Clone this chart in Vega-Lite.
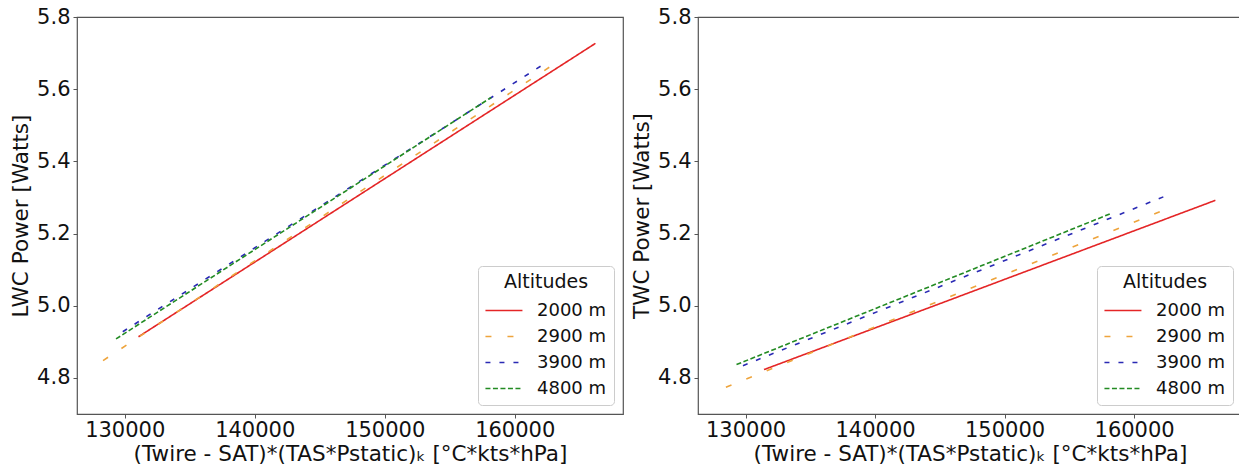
{
  "$schema": "https://vega.github.io/schema/vega-lite/v6.json",
  "padding": {"left": 10, "top": 5, "right": 0, "bottom": 1},
  "background": "white",
  "datasets": {
    "lines": [
      {"panel": "LWC", "alt": "2000 m", "x": 131060, "y": 4.914},
      {"panel": "LWC", "alt": "2000 m", "x": 166212, "y": 5.727},
      {"panel": "LWC", "alt": "2900 m", "x": 128333, "y": 4.848},
      {"panel": "LWC", "alt": "2900 m", "x": 162667, "y": 5.661},
      {"panel": "LWC", "alt": "3900 m", "x": 129850, "y": 4.928},
      {"panel": "LWC", "alt": "3900 m", "x": 162576, "y": 5.677},
      {"panel": "LWC", "alt": "4800 m", "x": 129333, "y": 4.908},
      {"panel": "LWC", "alt": "4800 m", "x": 158182, "y": 5.577},
      {"panel": "TWC", "alt": "2000 m", "x": 131424, "y": 4.823},
      {"panel": "TWC", "alt": "2000 m", "x": 166273, "y": 5.292},
      {"panel": "TWC", "alt": "2900 m", "x": 128485, "y": 4.774},
      {"panel": "TWC", "alt": "2900 m", "x": 162788, "y": 5.272},
      {"panel": "TWC", "alt": "3900 m", "x": 129800, "y": 4.834},
      {"panel": "TWC", "alt": "3900 m", "x": 162424, "y": 5.304},
      {"panel": "TWC", "alt": "4800 m", "x": 129303, "y": 4.837},
      {"panel": "TWC", "alt": "4800 m", "x": 158242, "y": 5.256}
    ]
  },
  "data": {"name": "lines"},
  "spacing": 7,
  "resolve": {
    "scale": {"color": "independent", "strokeDash": "independent"},
    "legend": {"color": "independent", "strokeDash": "independent"}
  },
  "hconcat": [
    {
      "width": 546,
      "height": 397,
      "transform": [{"filter": "datum.panel === 'LWC'"}],
      "mark": {"type": "line", "strokeWidth": 1.6, "clip": true},
      "encoding": {
        "x": {"field": "x", "type": "quantitative", "scale": {"domain": [126330, 168330], "nice": false, "zero": false},
              "axis": {"values": [130000, 140000, 150000, 160000], "format": "d", "title": "(Twire - SAT)*(TAS*Pstatic)ₖ [°C*kts*hPa]"}},
        "y": {"field": "y", "type": "quantitative", "scale": {"domain": [4.7, 5.8], "nice": false, "zero": false},
              "axis": {"values": [4.8, 5.0, 5.2, 5.4, 5.6, 5.8], "format": ".1f", "title": "LWC Power [Watts]"}},
        "color": {"field": "alt", "type": "nominal", "title": "Altitudes",
                  "scale": {"domain": ["2000 m", "2900 m", "3900 m", "4800 m"], "range": ["#e42526", "#eea43c", "#2a2ab4", "#238b23"]}},
        "strokeDash": {"field": "alt", "type": "nominal", "title": "Altitudes",
                  "scale": {"domain": ["2000 m", "2900 m", "3900 m", "4800 m"], "range": [[1, 0], [6, 16], [5, 9], [5, 2.5]]}},
        "detail": {"field": "alt"}
      }
    },
    {
      "width": 544,
      "height": 397,
      "transform": [{"filter": "datum.panel === 'TWC'"}],
      "mark": {"type": "line", "strokeWidth": 1.6, "clip": true},
      "encoding": {
        "x": {"field": "x", "type": "quantitative", "scale": {"domain": [126330, 168330], "nice": false, "zero": false},
              "axis": {"values": [130000, 140000, 150000, 160000], "format": "d", "title": "(Twire - SAT)*(TAS*Pstatic)ₖ [°C*kts*hPa]"}},
        "y": {"field": "y", "type": "quantitative", "scale": {"domain": [4.7, 5.8], "nice": false, "zero": false},
              "axis": {"values": [4.8, 5.0, 5.2, 5.4, 5.6, 5.8], "format": ".1f", "title": "TWC Power [Watts]"}},
        "color": {"field": "alt", "type": "nominal", "title": "Altitudes",
                  "scale": {"domain": ["2000 m", "2900 m", "3900 m", "4800 m"], "range": ["#e42526", "#eea43c", "#2a2ab4", "#238b23"]}},
        "strokeDash": {"field": "alt", "type": "nominal", "title": "Altitudes",
                  "scale": {"domain": ["2000 m", "2900 m", "3900 m", "4800 m"], "range": [[1, 0], [6, 16], [5, 9], [5, 2.5]]}},
        "detail": {"field": "alt"}
      }
    }
  ],
  "config": {
    "font": "DejaVu Sans",
    "view": {"stroke": "#555555", "strokeWidth": 1.2},
    "axis": {
      "grid": false,
      "domain": false,
      "tickColor": "#555555",
      "tickSize": 4,
      "labelFontSize": 21,
      "labelColor": "#111111",
      "titleFontSize": 21.5,
      "titleFontWeight": "normal",
      "titleColor": "#111111"
    },
    "axisX": {"titlePadding": 3, "labelPadding": 1},
    "axisY": {"titlePadding": 4, "labelPadding": 3},
    "legend": {
      "orient": "bottom-right",
      "offset": 9,
      "fillColor": "white",
      "strokeColor": "#cccccc",
      "cornerRadius": 4,
      "padding": 7,
      "titleFontSize": 19,
      "titleFontWeight": "normal",
      "titleColor": "#111111",
      "titleAnchor": "middle",
      "titlePadding": 4,
      "labelFontSize": 18,
      "labelColor": "#111111",
      "labelOffset": 23,
      "symbolType": "M-1.062,0H1.735",
      "symbolSize": 700,
      "symbolStrokeWidth": 1.6,
      "rowPadding": 2
    }
  }
}
